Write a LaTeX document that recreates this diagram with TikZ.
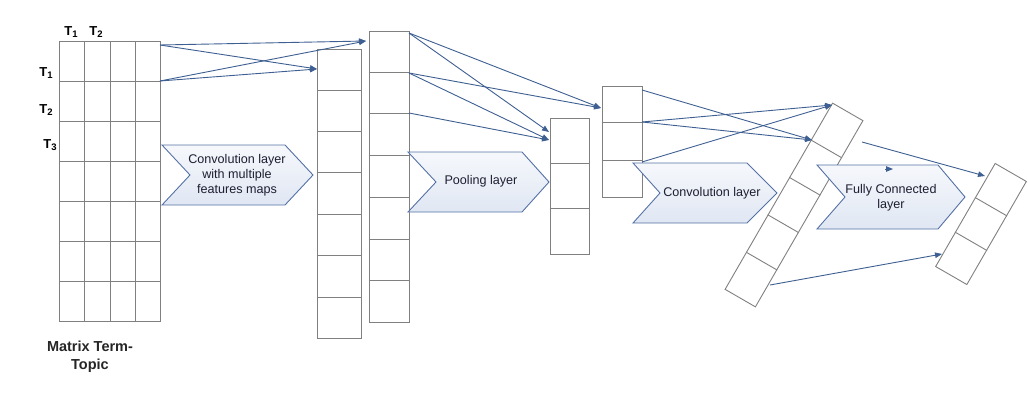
\documentclass[tikz,border=0pt]{standalone}
\usepackage{fontspec}
\setmainfont{Liberation Sans}
\usetikzlibrary{arrows.meta,calc}
\definecolor{gridgray}{RGB}{128,128,128}
\definecolor{arrowblue}{RGB}{62,95,145}
\definecolor{chevborder}{RGB}{84,113,165}
\definecolor{chevfill}{RGB}{224,231,243}
\definecolor{txt}{RGB}{30,30,50}
\newcommand{\tsub}[1]{T\raisebox{-2.5pt}{\fontsize{9.5}{9.5}\selectfont #1}}
\tikzset{
  cellbox/.style={draw=gridgray, line width=0.9pt, inner sep=0pt, fill=white},
  divider/.style={draw=gridgray, line width=0.9pt},
  conn/.style={draw=arrowblue, line width=0.9pt, -{Triangle[length=7pt,width=5.5pt]}},
  chev/.style={draw=chevborder, line width=0.9pt, top color=white!70!chevfill, bottom color=chevfill},
  chevtext/.style={font=\fontsize{12.6}{15}\selectfont, text=txt, align=center, inner sep=0pt},
  tlabel/.style={font=\bfseries\fontsize{13}{14}\selectfont, inner sep=0pt},
  mlabel/.style={font=\bfseries\fontsize{14.5}{18}\selectfont, text=black!85, align=center, inner sep=0pt}
}
\begin{document}
\begin{tikzpicture}[x=1pt,y=-1pt]
\useasboundingbox (0,0) rectangle (1028,415);
% ---- matrix term-topic
\node[cellbox, minimum width=101pt, minimum height=280pt] (mat) at (109.5,181) {};
\foreach \xx in {84,110,135} \draw[divider] (\xx,41) -- (\xx,321);
\foreach \yy in {81,121,161,201,241,281} \draw[divider] (59,\yy) -- (160,\yy);
\node[tlabel] (tc1) at (71,32) {\tsub{1}};
\node[tlabel] (tc2) at (96,32) {\tsub{2}};
\node[tlabel] (tr1) at (46,73) {\tsub{1}};
\node[tlabel] (tr2) at (46,110) {\tsub{2}};
\node[tlabel] (tr3) at (50,145) {\tsub{3}};
\node[mlabel] (mcap) at (90,357) {Matrix Term-\\Topic};
% ---- column 2 (7 cells)
\node[cellbox, minimum width=44pt, minimum height=289pt] (c2) at (339,193.5) {};
\foreach \k in {1,...,6} \draw[divider] ($(c2.north west)!\k/7!(c2.south west)$) -- ($(c2.north east)!\k/7!(c2.south east)$);
% ---- column 3 (7 cells)
\node[cellbox, minimum width=40pt, minimum height=291pt] (c3) at (389,176.5) {};
\foreach \k in {1,...,6} \draw[divider] ($(c3.north west)!\k/7!(c3.south west)$) -- ($(c3.north east)!\k/7!(c3.south east)$);
% ---- column 4 (3 cells)
\node[cellbox, minimum width=39pt, minimum height=136pt] (c4) at (569.5,186) {};
\foreach \k in {1,2} \draw[divider] ($(c4.north west)!\k/3!(c4.south west)$) -- ($(c4.north east)!\k/3!(c4.south east)$);
% ---- column 5 (3 cells)
\node[cellbox, minimum width=40pt, minimum height=111pt] (c5) at (622,141.5) {};
\foreach \k in {1,2} \draw[divider] ($(c5.north west)!\k/3!(c5.south west)$) -- ($(c5.north east)!\k/3!(c5.south east)$);
% ---- chevrons 1-3
\path[chev] (162,145) -- (285,145) -- (313,175) -- (285,205) -- (162,205) -- (190,175) -- cycle;
\node[chevtext] (t1) at (237,175) {Convolution layer\\with multiple\\features maps};
\path[chev] (408,152) -- (522,152) -- (549,182) -- (522,212) -- (408,212) -- (436,182) -- cycle;
\node[chevtext] (t2) at (481,181) {Pooling layer};
\path[chev] (633,163) -- (747,163) -- (777,193) -- (747,223) -- (633,223) -- (660,193) -- cycle;
\node[chevtext] (t3) at (712,193) {Convolution layer};
% ---- column 6 rotated (5 cells)
\node[cellbox, rotate=-30, minimum width=35pt, minimum height=215pt] (c6) at (794,205) {};
\foreach \k in {1,...,4} \draw[divider] ($(c6.north west)!\k/5!(c6.south west)$) -- ($(c6.north east)!\k/5!(c6.south east)$);
% ---- chevron 4
\path[chev] (817,165) -- (938,165) -- (965,197) -- (938,229) -- (817,229) -- (845,197) -- cycle;
\node[chevtext] (t4) at (891,198) {Fully Connected\\layer};
% ---- column 7 rotated (3 cells)
\node[cellbox, rotate=-30, minimum width=36pt, minimum height=119pt] (c7) at (981,224) {};
\foreach \k in {1,2} \draw[divider] ($(c7.north west)!\k/3!(c7.south west)$) -- ($(c7.north east)!\k/3!(c7.south east)$);
% ---- connector end points
\coordinate (m1) at (160,45);
\coordinate (m2) at (160,81);
\coordinate (c2in) at (317,69);
\coordinate (c3in) at (366,41);
\coordinate (c3a) at (409,33);
\coordinate (c3b) at (409,73);
\coordinate (c3c) at (409,113);
\coordinate (c4a) at (549,132);
\coordinate (c4b) at (549,140);
\coordinate (c5in) at (601,108);
\coordinate (c5a) at (642,90);
\coordinate (c5b) at (642,122);
\coordinate (c5c) at (642,162);
\coordinate (c6a) at (812,140);
\coordinate (c6b) at (832,105);
\coordinate (c6c) at (862,142);
\coordinate (c6d) at (770,285);
\coordinate (c7a) at (985,176);
\coordinate (c7b) at (942,254);
\coordinate (fs) at (885,169);
\coordinate (fe) at (893,169);
% ---- connectors
\draw[conn] (m1) -- (c3in);
\draw[conn] (m1) -- (c2in);
\draw[conn] (m2) -- (c3in);
\draw[conn] (m2) -- (c2in);
\draw[conn] (c3a) -- (c5in);
\draw[conn] (c3a) -- (c4a);
\draw[conn] (c3b) -- (c5in);
\draw[conn] (c3b) -- (c4b);
\draw[conn] (c3c) -- (c4b);
\draw[conn] (c5a) -- (c6a);
\draw[conn] (c5b) -- (c6b);
\draw[conn] (c5b) -- (c6a);
\draw[conn] (c5c) -- (c6b);
\draw[conn] (c6c) -- (c7a);
\draw[conn] (c6d) -- (c7b);
\draw[conn] (fs) -- (fe);
\end{tikzpicture}
\end{document}
